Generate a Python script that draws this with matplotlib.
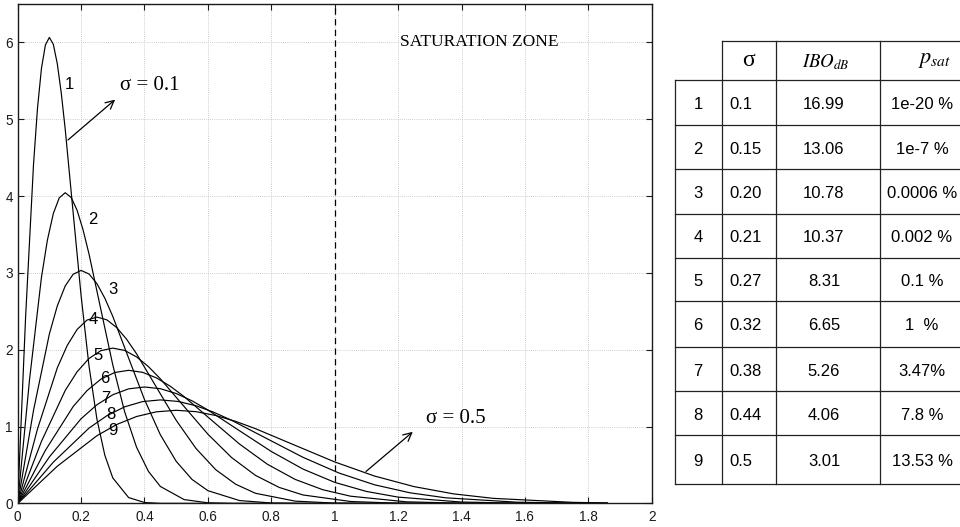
import matplotlib
matplotlib.use("Agg")
import matplotlib.pyplot as plt

plt.rcParams['font.family'] = ['Liberation Sans', 'DejaVu Sans']
plt.rcParams['mathtext.fontset'] = 'stix'

# density curves, curve n -> (xn, yn)
x1 = [0, 0.025, 0.05, 0.0625, 0.075, 0.0875, 0.1, 0.1125, 0.125, 0.1375, 0.15, 0.175, 0.2, 0.225, 0.25, 0.275, 0.3, 0.35, 0.4, 0.45, 1.86]
y1 = [0, 2.423, 4.412, 5.141, 5.661, 5.967, 6.065, 5.975, 5.723, 5.343, 4.870, 3.785, 2.707, 1.790, 1.098, 0.627, 0.333, 0.077, 0.013, 0.002, 0]
x2 = [0, 0.0375, 0.075, 0.09375, 0.1125, 0.13125, 0.15, 0.16875, 0.1875, 0.20625, 0.225, 0.2625, 0.3, 0.3375, 0.375, 0.4125, 0.45, 0.525, 0.6, 0.675, 1.86]
y2 = [0, 1.615, 2.942, 3.427, 3.774, 3.978, 4.044, 3.983, 3.815, 3.562, 3.247, 2.523, 1.804, 1.193, 0.732, 0.418, 0.222, 0.051, 0.009, 0.001, 0]
x3 = [0, 0.05, 0.1, 0.125, 0.15, 0.175, 0.2, 0.225, 0.25, 0.275, 0.3, 0.35, 0.4, 0.45, 0.5, 0.55, 0.6, 0.7, 0.8, 0.9, 1.86]
y3 = [0, 1.212, 2.206, 2.571, 2.831, 2.983, 3.033, 2.987, 2.861, 2.671, 2.435, 1.892, 1.353, 0.895, 0.549, 0.313, 0.167, 0.038, 0.007, 0.001, 0]
x4 = [0, 0.0625, 0.125, 0.15625, 0.1875, 0.21875, 0.25, 0.28125, 0.3125, 0.34375, 0.375, 0.4375, 0.5, 0.5625, 0.625, 0.6875, 0.75, 0.875, 1.0, 1.125, 1.86]
y4 = [0, 0.969, 1.765, 2.056, 2.265, 2.387, 2.426, 2.390, 2.289, 2.137, 1.948, 1.514, 1.083, 0.716, 0.439, 0.251, 0.133, 0.031, 0.005, 0.001, 0]
x5 = [0, 0.075, 0.15, 0.1875, 0.225, 0.2625, 0.3, 0.3375, 0.375, 0.4125, 0.45, 0.525, 0.6, 0.675, 0.75, 0.825, 0.9, 1.05, 1.2, 1.35, 1.86]
y5 = [0, 0.808, 1.471, 1.714, 1.887, 1.989, 2.022, 1.992, 1.908, 1.781, 1.623, 1.262, 0.902, 0.597, 0.366, 0.209, 0.111, 0.026, 0.004, 0.001, 0]
x6 = [0, 0.0875, 0.175, 0.21875, 0.2625, 0.30625, 0.35, 0.39375, 0.4375, 0.48125, 0.525, 0.6125, 0.7, 0.7875, 0.875, 0.9625, 1.05, 1.225, 1.4, 1.575, 1.86]
y6 = [0, 0.692, 1.261, 1.469, 1.618, 1.705, 1.733, 1.707, 1.635, 1.526, 1.391, 1.081, 0.773, 0.511, 0.314, 0.179, 0.095, 0.022, 0.004, 0.001, 0]
x7 = [0, 0.1, 0.2, 0.25, 0.3, 0.35, 0.4, 0.45, 0.5, 0.55, 0.6, 0.7, 0.8, 0.9, 1.0, 1.1, 1.2, 1.4, 1.6, 1.8, 1.86]
y7 = [0, 0.606, 1.103, 1.285, 1.415, 1.492, 1.516, 1.494, 1.431, 1.336, 1.217, 0.946, 0.677, 0.448, 0.275, 0.157, 0.083, 0.019, 0.003, 0.001, 0]
x8 = [0, 0.1125, 0.225, 0.28125, 0.3375, 0.39375, 0.45, 0.50625, 0.5625, 0.61875, 0.675, 0.7875, 0.9, 1.0125, 1.125, 1.2375, 1.35, 1.575, 1.8, 1.86]
y8 = [0, 0.538, 0.981, 1.142, 1.258, 1.326, 1.348, 1.328, 1.272, 1.187, 1.082, 0.841, 0.601, 0.398, 0.244, 0.139, 0.074, 0.017, 0.003, 0.002]
x9 = [0, 0.125, 0.25, 0.3125, 0.375, 0.4375, 0.5, 0.5625, 0.625, 0.6875, 0.75, 0.875, 1.0, 1.125, 1.25, 1.375, 1.5, 1.75, 1.86]
y9 = [0, 0.485, 0.882, 1.028, 1.132, 1.193, 1.213, 1.195, 1.145, 1.069, 0.974, 0.757, 0.541, 0.358, 0.220, 0.125, 0.067, 0.015, 0.007]

curve_x = [x1, x2, x3, x4, x5, x6, x7, x8, x9]
curve_y = [y1, y2, y3, y4, y5, y6, y7, y8, y9]

# curve numbers and where they sit
curve_names = ['1', '2', '3', '4', '5', '6', '7', '8', '9']
name_x = [0.162, 0.237, 0.300, 0.237, 0.253, 0.276, 0.279, 0.293, 0.300]
name_y = [5.45, 3.69, 2.78, 2.39, 1.93, 1.63, 1.37, 1.16, 0.95]

xtick_vals = [0, 0.2, 0.4, 0.6, 0.8, 1.0, 1.2, 1.4, 1.6, 1.8, 2.0]
xtick_text = ['0', '0.2', '0.4', '0.6', '0.8', '1', '1.2', '1.4', '1.6', '1.8', '2']
ytick_vals = [0, 1, 2, 3, 4, 5, 6]

# table on the right
tbl_num = ['1', '2', '3', '4', '5', '6', '7', '8', '9']
tbl_sigma = ['0.1', '0.15', '0.20', '0.21', '0.27', '0.32', '0.38', '0.44', '0.5']
tbl_ibo = ['16.99', '13.06', '10.78', '10.37', '8.31', '6.65', '5.26', '4.06', '3.01']
tbl_psat = ['1e-20 %', '1e-7 %', '0.0006 %', '0.002 %', '0.1 %', '1  %', '3.47%', '7.8 %', '13.53 %']

serif = ['Liberation Serif', 'DejaVu Serif']

fig = plt.figure(figsize=(9.6, 5.27), dpi=100)
ax = fig.add_axes([0.0184, 0.0446, 0.6605, 0.9478])

for xs, ys in zip(curve_x, curve_y):
    ax.plot(xs, ys, color='black', lw=0.85)

ax.axvline(1.0, color='black', lw=0.9, ls=(0, (5, 3.5)))

ax.set_xlim(0, 2)
ax.set_ylim(0, 6.5)
ax.set_xticks(xtick_vals)
ax.set_xticklabels(xtick_text)
ax.set_yticks(ytick_vals)
ax.grid(True, color='#bdbdbd', ls=(0, (1, 1.5)), lw=0.6)
ax.tick_params(direction='in', top=True, right=True, length=4, width=0.8,
               labelsize=9.8, colors='#1a1a1a')
ax.tick_params(axis='x', pad=5)
ax.tick_params(axis='y', pad=3.5)
for s in ax.spines.values():
    s.set_linewidth(1.0)
    s.set_color('#1a1a1a')

for name, lx, ly in zip(curve_names, name_x, name_y):
    ax.text(lx, ly, name, fontsize=12, ha='center', va='center')

ax.text(1.205, 6.0, 'SATURATION ZONE', family=serif, fontsize=12.5,
        ha='left', va='center')

ax.text(0.323, 5.44, 'σ = 0.1', family=serif, fontsize=15, ha='left', va='center')
ax.annotate('', xy=(0.314, 5.279), xytext=(0.152, 4.707),
            arrowprops=dict(arrowstyle='->,head_length=0.6,head_width=0.3',
                            color='black', lw=0.9))
ax.text(1.288, 1.108, 'σ = 0.5', family=serif, fontsize=15, ha='left', va='center')
ax.annotate('', xy=(1.253, 0.956), xytext=(1.092, 0.393),
            arrowprops=dict(arrowstyle='->,head_length=0.6,head_width=0.3',
                            color='black', lw=0.9))

# table drawn in pixel coordinates of the figure
tax = fig.add_axes([0, 0, 1, 1])
tax.set_xlim(0, 960)
tax.set_ylim(527, 0)
tax.axis('off')

col_edges = [675, 721.7, 775.7, 880.3, 985]
row_edges = [40.7, 80, 125, 169.3, 213.7, 258, 300.7, 347.3, 391, 435.3, 484]
line_kw = dict(color='#222222', lw=0.9)

tax.plot([col_edges[1], col_edges[-1]], [row_edges[0]] * 2, **line_kw)
for ry in row_edges[1:]:
    tax.plot([col_edges[0], col_edges[-1]], [ry, ry], **line_kw)
tax.plot([col_edges[0]] * 2, [row_edges[1], row_edges[-1]], **line_kw)
for cx in col_edges[1:]:
    tax.plot([cx, cx], [row_edges[0], row_edges[-1]], **line_kw)

tax.text(748.7, 60, 'σ', family=serif, fontsize=17, ha='center', va='center')
tax.text(826, 62, r'$IBO_{dB}$', fontsize=13.5, ha='center', va='center')
tax.text(935, 60, r'$p_{sat}$', fontsize=16, ha='center', va='center')

for i in range(len(tbl_num)):
    cy = (row_edges[i + 1] + row_edges[i + 2]) / 2 + 2
    tax.text(698, cy, tbl_num[i], fontsize=12, ha='center', va='center')
    tax.text(729.5, cy, tbl_sigma[i], fontsize=12, ha='left', va='center')
    tax.text(824, cy, tbl_ibo[i], fontsize=12, ha='center', va='center')
    tax.text(922, cy, tbl_psat[i], fontsize=12, ha='center', va='center')

fig.savefig('out.png', dpi=100)
